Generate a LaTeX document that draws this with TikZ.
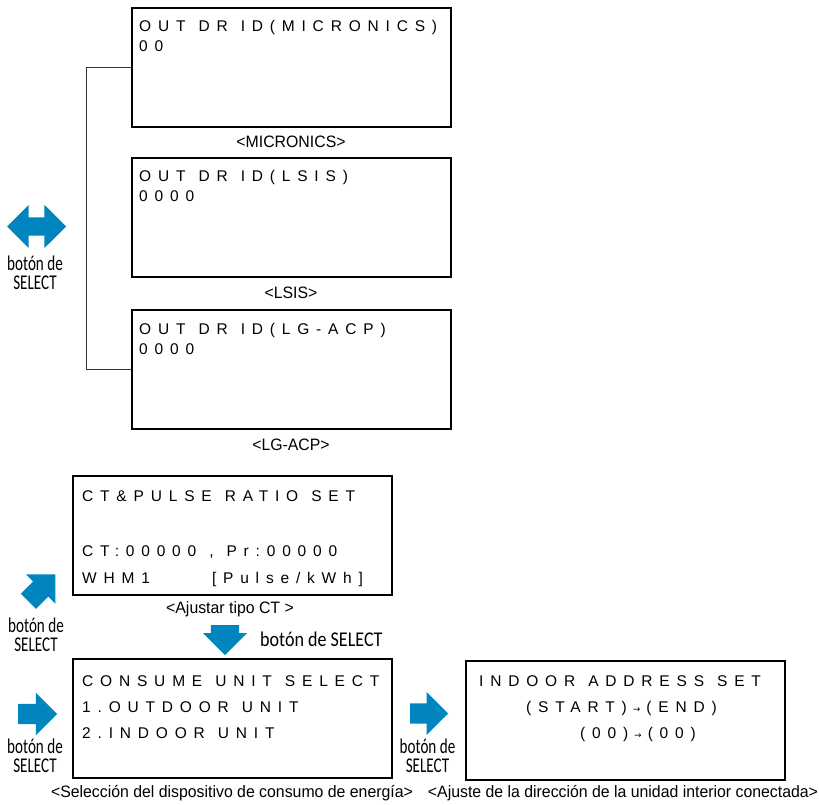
\documentclass[tikz,border=0pt]{standalone}
\usepackage{fontspec}
\usetikzlibrary{shapes.arrows}
\setmainfont{Liberation Sans}
\newfontfamily\lcdfont[LetterSpace=44]{Liberation Sans}
\newfontfamily\capfont[FakeStretch=0.96]{Liberation Sans}
\newfontfamily\btnfont[FakeStretch=0.72]{Carlito}
\newfontfamily\btnwidefont[FakeStretch=0.86]{Carlito}
\newfontfamily\symfont{DejaVu Sans}
\definecolor{selblue}{RGB}{0,133,190}

\newcommand*\screenwidth{319pt}
\newcommand*\screenheight{119pt}
\newcommand*\toarrow{\hspace{6pt}{\symfont\fontsize{9}{9}\selectfont →}\hspace{6pt}}
\tikzset{
    screen/.style={
        draw,
        line width=2pt,
        rectangle,
        anchor=north west,
        inner sep=0pt,
        minimum width=\screenwidth,
        minimum height=\screenheight
    },
    lcdtext/.style={anchor=base west, inner sep=0pt, font={\lcdfont\fontsize{15.5}{18}\selectfont\spaceskip=13pt\relax}},
    caption/.style={anchor=base, inner sep=0pt, font=\capfont\fontsize{16.5}{20}\selectfont},
    btn/.style={anchor=base, align=center, inner sep=0pt, font=\btnfont\fontsize{21}{19}\selectfont},
    bracket/.style={line width=0.9pt, draw=black!80},
    selarrow/.style 2 args={
        single arrow,
        fill=selblue,
        anchor=tail,
        inner xsep=0pt,
        inner ysep=#1/2,
        single arrow head extend=#2,
        single arrow tip angle=90
    }
}

\begin{document}
\begin{tikzpicture}[x=1pt,y=-1pt]
    \useasboundingbox (0,0) rectangle (819,805);

    % First draw the three OUT DR ID screens with their captions.
    \foreach \name/\ytop/\id/\code in {micronics/7/MICRONICS/00,lsis/157/LSIS/0000,lgacp/309/LG-ACP/0000} {
        \node[screen] (\name) at (131,\ytop) {};
        \node[lcdtext] (\name-l1) at (139,\ytop+25) {OUT DR ID(\id)};
        \node[lcdtext] (\name-l2) at (139,\ytop+45) {\code};
        \node[caption] (\name-cap) at (291,\ytop+141) {<\id>};
    }

    % The bracket joins the first and the last screen.
    \draw[bracket] (micronics.west) -- ++(-45,0) |- (lgacp.west);

    % Double arrow on the left.
    \node[double arrow, fill=selblue, inner xsep=0pt, inner ysep=9pt,
          double arrow head extend=12.5pt, minimum height=59pt] (dblarrow) at (36.5,226.5) {};
    \node[btn] (dblarrow-btn) at (35,289) {botón de\\SELECT};

    % CT and pulse ratio screen.
    \node[screen] (ctpulse) at (72,475) {};
    \node[lcdtext] (ctpulse-l1) at (82,501) {CT\&PULSE RATIO SET};
    \node[lcdtext] (ctpulse-l3) at (82,556) {CT:00000 , Pr:00000};
    \node[lcdtext] (ctpulse-l4) at (82,583) {WHM1\hspace{62pt}[Pulse/kWh]};
    \node[caption] (ctpulse-cap) at (230,613) {<Ajustar tipo CT >};

    \node[selarrow={21pt}{10pt}, minimum height=38pt, rotate=45] (diagarrow) at (28.3,601.5) {};
    \node[btn] (diagarrow-btn) at (36,651) {botón de\\SELECT};

    \node[selarrow={28pt}{8pt}, minimum height=30pt, rotate=-90] (downarrow) at (225,625) {};
    \node[btn, anchor=base west, font=\btnwidefont\fontsize{21}{19}\selectfont] (downarrow-btn) at (260,646) {botón de SELECT};

    % Consume unit screen.
    \node[screen] (consume) at (72,658) {};
    \node[lcdtext] (consume-l1) at (82,686) {CONSUME UNIT SELECT};
    \node[lcdtext] (consume-l2) at (82,712) {1.OUTDOOR UNIT};
    \node[lcdtext] (consume-l3) at (82,738) {2.INDOOR UNIT};
    \node[caption] (consume-cap) at (232,797) {<Selección del dispositivo de consumo de energía>};

    \node[selarrow={20pt}{11pt}, minimum height=39pt] (leftarrow) at (18,714) {};
    \node[btn] (leftarrow-btn) at (35,772) {botón de\\SELECT};

    % Indoor address screen.
    \node[screen] (indoor) at (465,660) {};
    \node[lcdtext] (indoor-l1) at (479,686) {INDOOR ADDRESS SET};
    \node[lcdtext] (indoor-l2) at (526,712) {(START)\toarrow(END)};
    \node[lcdtext] (indoor-l3) at (580,738) {(00)\toarrow(00)};
    \node[caption] (indoor-cap) at (623,797) {<Ajuste de la dirección de la unidad interior conectada>};

    \node[selarrow={20pt}{11.5pt}, minimum height=38pt] (midarrow) at (410,713.5) {};
    \node[btn] (midarrow-btn) at (427.5,772) {botón de\\SELECT};

\end{tikzpicture}
\end{document}
